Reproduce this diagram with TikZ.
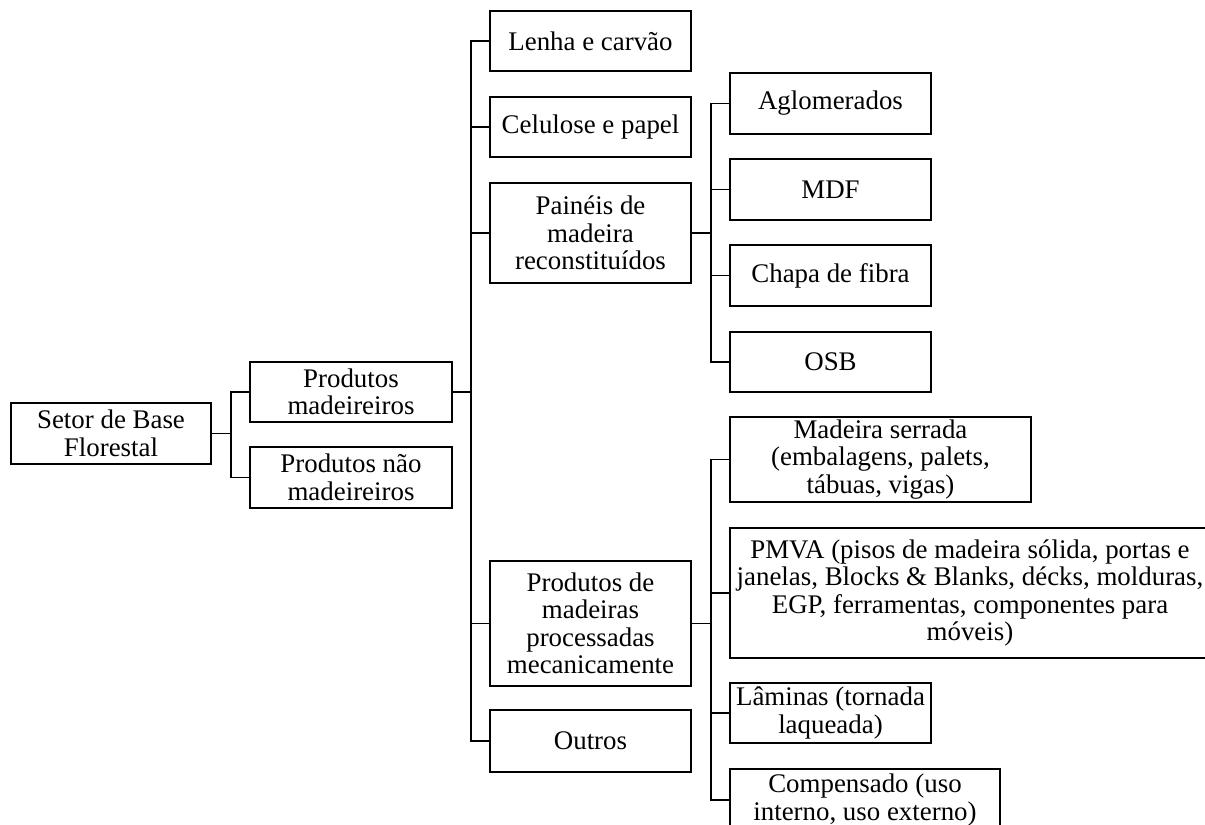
\documentclass[tikz,border=0pt]{standalone}
\usepackage{fontspec}
\setmainfont{Liberation Serif}

\begin{document}
\begin{tikzpicture}[x=0.02cm,y=-0.02cm,line width=1.1pt,
    caixa/.style={draw,align=center,inner sep=0pt,
        font=\fontsize{15.3}{15.6}\selectfont},
    tam/.style 2 args={minimum width=#1*0.02cm,minimum height=#2*0.02cm},
    ]
    \useasboundingbox (0,0) rectangle (1205,825);
    %
    \node[caixa,tam={200}{61}] (setor) at (111,433.5) {Setor de Base\\Florestal};
    %
    \node[caixa,tam={202}{60}] (mad) at (351,392) {Produtos\\madeireiros};
    \node[caixa,tam={202}{61}] (naomad) at (351,477.5) {Produtos não\\madeireiros};
    %
    \node[caixa,tam={201}{60}] (lenha) at (590.5,41) {Lenha e carvão};
    \node[caixa,tam={201}{60}] (celulose) at (590.5,127) {Celulose e papel};
    \node[caixa,tam={201}{100}] (paineis) at (590.5,233) {Painéis de\\madeira\\reconstituídos};
    \node[caixa,tam={201}{125}] (procmec) at (590.5,623.5) {Produtos de\\madeiras\\processadas\\mecanicamente};
    \node[caixa,tam={201}{62}] (outros) at (590.5,741) {Outros};
    %
    \node[caixa,tam={201}{61}] (aglom) at (830.5,103.5) {Aglomerados};
    \node[caixa,tam={201}{61}] (mdf) at (830.5,189.5) {MDF};
    \node[caixa,tam={201}{61}] (chapa) at (830.5,275.5) {Chapa de fibra};
    \node[caixa,tam={201}{60}] (osb) at (830.5,362) {OSB};
    %
    \node[caixa,tam={301}{85}] (serrada) at (880.5,459.5) {Madeira serrada\\(embalagens, palets,\\tábuas, vigas)};
    \node[caixa,tam={480}{130}] (pmva) at (970,593) {PMVA (pisos de madeira sólida, portas e\\janelas, Blocks \& Blanks, décks, molduras,\\EGP, ferramentas, componentes para\\móveis)};
    \node[caixa,tam={201}{60}] (laminas) at (830.5,713) {Lâminas (tornada\\laqueada)};
    \node[caixa,tam={270}{62}] (compensado) at (865,800) {Compensado (uso\\interno, uso externo)};
    %
    \foreach \filho in {mad,naomad}
        \draw (setor.east) -- ++(19,0) |- (\filho.west);
    \foreach \filho in {lenha,celulose,paineis,procmec,outros}
        \draw (mad.east) -- ++(18,0) |- (\filho.west);
    \foreach \filho in {aglom,mdf,chapa,osb}
        \draw (paineis.east) -- ++(19,0) |- (\filho.west);
    \foreach \filho in {serrada,pmva,laminas,compensado}
        \draw (procmec.east) -- ++(19,0) |- (\filho.west);
    %
\end{tikzpicture}
\end{document}
